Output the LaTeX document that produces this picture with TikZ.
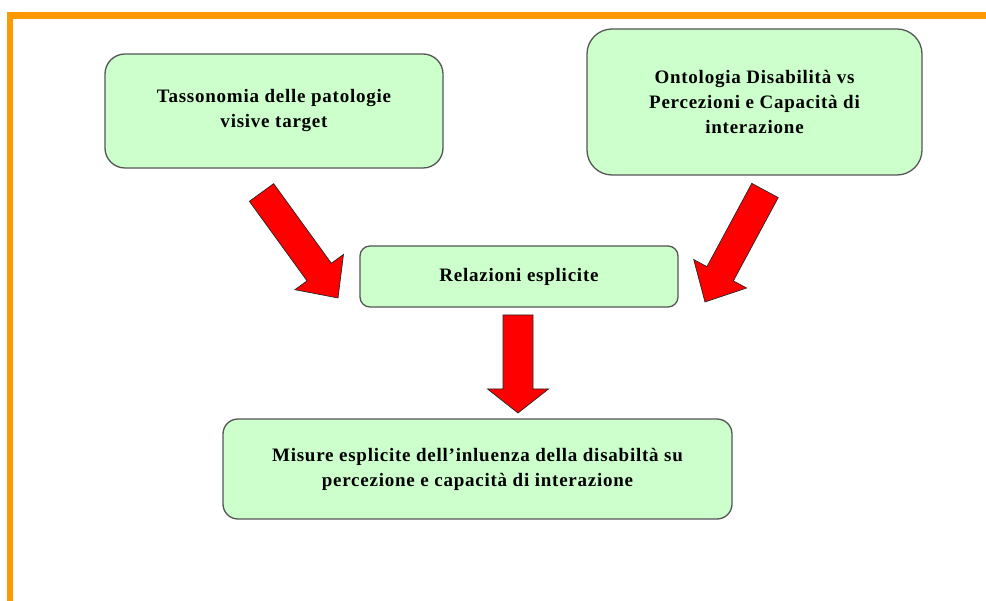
\documentclass[tikz,border=0pt]{standalone}
\usepackage{fontspec}
\newfontfamily\boxfont{Liberation Serif}[LetterSpace=4]
\definecolor{boxgreen}{RGB}{204,255,204}
\definecolor{frameorange}{RGB}{255,153,0}
\definecolor{boxline}{RGB}{85,85,85}
\newcommand\blkarrow[5]{%
  \begin{scope}[shift={(#1)},rotate=-#2]
    \draw[arrowfill] (0,-15) -- ({#3-#4},-15) -- ({#3-#4},-#5) -- (#3,0)
      -- ({#3-#4},#5) -- ({#3-#4},15) -- (0,15) -- cycle;
  \end{scope}}
\begin{document}
\begin{tikzpicture}[x=1pt,y=-1pt,
  box/.style={draw=boxline, line width=1.3pt, fill=boxgreen, align=center,
    inner sep=0pt, font=\boxfont\bfseries\fontsize{19}{25}\selectfont},
  arrowfill/.style={fill=red, draw=black!85, line width=0.7pt, line join=miter}]
\useasboundingbox (0,0) rectangle (986,601);
% orange frame
\fill[frameorange] (7,12) rectangle (986,19);
\fill[frameorange] (7,12) rectangle (13,601);
% boxes
\node[box, rounded corners=20pt, minimum width=338pt, minimum height=114pt]
  (tax) at (274,111) {Tassonomia delle patologie\\visive target};
\node[box, rounded corners=25pt, minimum width=335pt, minimum height=146pt]
  (ont) at (754.5,102) {Ontologia Disabilità vs\\Percezioni e Capacità di\\interazione};
\node[box, rounded corners=10pt, minimum width=318pt, minimum height=61pt]
  (rel) at (519,276.5) {Relazioni esplicite};
\node[box, rounded corners=15pt, minimum width=509pt, minimum height=100pt]
  (mis) at (477.5,469) {Misure esplicite dell’inluenza della disabiltà su\\percezione e capacità di interazione};
% block arrows
\blkarrow{261.5,192.5}{54.05}{130.3}{32}{30}
\blkarrow{765,190.5}{118.3}{126.6}{32}{30}
\blkarrow{518,315}{90}{98}{24}{30.5}
\end{tikzpicture}
\end{document}
